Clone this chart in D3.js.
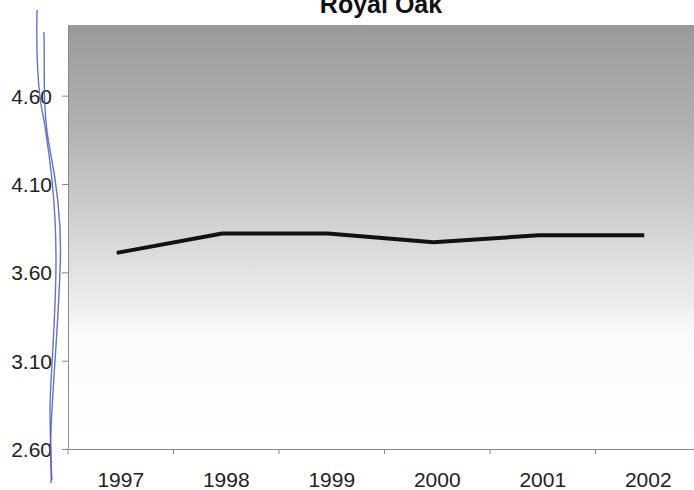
<!DOCTYPE html>
<html><head><meta charset="utf-8">
<script src="https://cdn.jsdelivr.net/npm/d3@7"></script>
<style>html,body{margin:0;padding:0;background:#fff;overflow:hidden}</style>
</head><body>
<svg id="c" width="694" height="490"></svg>
<script>
const title = "Royal Oak";
const years = ["1997","1998","1999","2000","2001","2002"];
const values = [3.71, 3.82, 3.82, 3.77, 3.81, 3.81];
const yTicks = [2.60, 3.10, 3.60, 4.10, 4.60];

const svg = d3.select("#c");
const m = {left:68, top:25, right:701, bottom:449};
const x = d3.scaleBand().domain(years).range([m.left, m.right]);
const y = d3.scaleLinear().domain([2.6, 5.0]).range([m.bottom, m.top]);
const font = "Liberation Sans, Arial, sans-serif";

const defs = svg.append("defs");
const g = defs.append("linearGradient").attr("id","bg").attr("x1",0).attr("y1",0).attr("x2",0).attr("y2",1);
[[0,"#9a9a9a"],[0.25,"#b2b2b2"],[0.5,"#d6d6d6"],[0.65,"#ececec"],[0.73,"#fbfbfb"],[1,"#ffffff"]]
  .forEach(([o,c])=>g.append("stop").attr("offset",o).attr("stop-color",c));

svg.append("rect").attr("x",m.left).attr("y",m.top).attr("width",m.right-m.left).attr("height",m.bottom-m.top).attr("fill","url(#bg)");

// title
svg.append("text").attr("x",381).attr("y",13).attr("text-anchor","middle")
  .attr("font-family",font).attr("font-weight","bold").attr("font-size",25).attr("fill","#111").text(title);

// y axis
const ya = svg.append("g").attr("transform",`translate(${m.left},0)`)
  .call(d3.axisLeft(y).tickValues(yTicks).tickFormat(d3.format(".2f")).tickSize(6).tickSizeOuter(0));
ya.select(".domain").attr("stroke","#8a8a8a");
ya.selectAll(".tick line").attr("stroke","#8a8a8a");
ya.selectAll("text").attr("font-family",font).attr("font-size",21).attr("fill","#222").attr("x",-16).attr("dy","0.35em");

// x axis
const xa = svg.append("g").attr("transform",`translate(0,${m.bottom})`)
  .call(d3.axisBottom(x).tickSize(0).tickSizeOuter(0));
xa.select(".domain").attr("stroke","#8a8a8a");
xa.selectAll("text").attr("font-family",font).attr("font-size",21).attr("fill","#222").attr("y",23);
// boundary ticks between categories
const bounds = years.map(d=>x(d)).concat([m.right]);
svg.append("g").selectAll("line").data(bounds).join("line")
  .attr("x1",d=>d).attr("x2",d=>d).attr("y1",m.bottom).attr("y2",m.bottom+5).attr("stroke","#8a8a8a");

// line
const line = d3.line().x((d,i)=>x(years[i])+x.bandwidth()/2 - 4).y(d=>y(d));
svg.append("path").datum(values).attr("d",line).attr("fill","none").attr("stroke","#111").attr("stroke-width",4).attr("stroke-linejoin","round");

// hand-drawn pen annotation (scan artifact)
svg.append("path").attr("d","M37,10 C36,60 38,95 44,120 C50,160 56,200 56,260 C56,320 50,380 50,410 C50,440 52,470 51,483")
  .attr("fill","none").attr("stroke","#4a5bb8").attr("stroke-width",1.4).attr("opacity",0.85);
svg.append("path").attr("d","M44,32 C45,70 42,110 50,150 C58,190 62,230 60,270 C58,330 53,380 51,430 C50,450 51,470 52,480")
  .attr("fill","none").attr("stroke","#4a5bb8").attr("stroke-width",1.4).attr("opacity",0.85);
</script>
</body></html>
